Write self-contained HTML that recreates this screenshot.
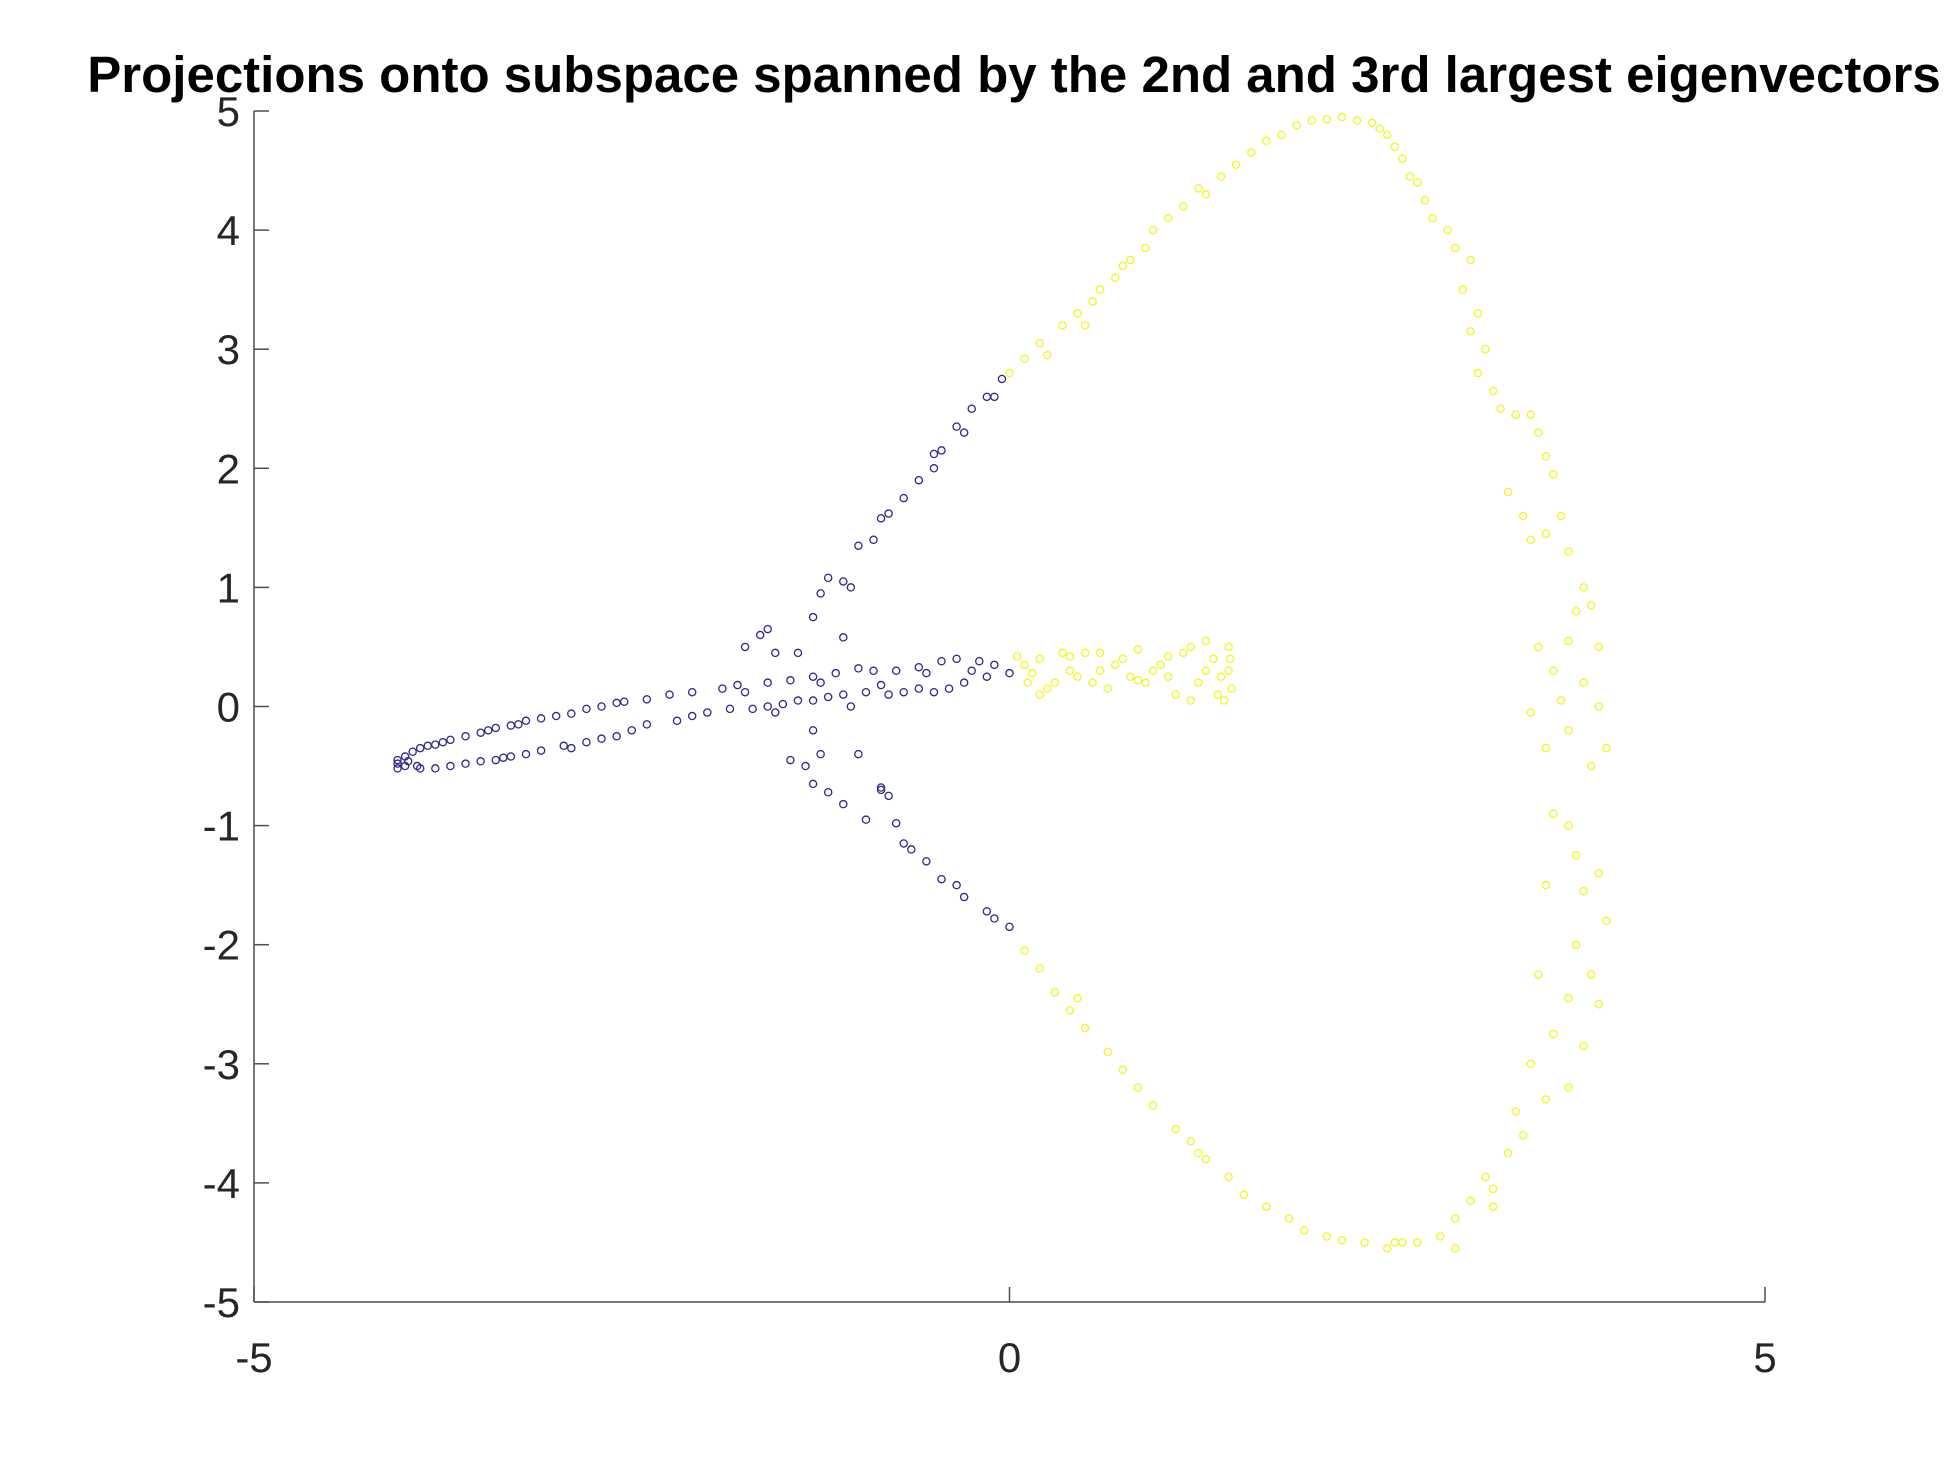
<!DOCTYPE html>
<html><head><meta charset="utf-8"><style>
html,body{margin:0;padding:0;background:#fff;}
svg{display:block;}
text{font-family:"Liberation Sans",sans-serif;}
</style></head><body>
<svg id="chart" width="1951" height="1463">
<text x="1014" y="92" text-anchor="middle" font-size="51" font-weight="bold" fill="#000">Projections onto subspace spanned by the 2nd and 3rd largest eigenvectors</text>
<g id="axes"></g>
<g id="pts"></g>
</svg>
<script>
const xTicks=[-5,0,5];
const yTicks=[5,4,3,2,1,0,-1,-2,-3,-4,-5];
const blueX=[-4.05,-4.0,-3.95,-3.9,-3.85,-3.8,-3.75,-3.7,-3.6,-3.5,-3.45,-3.4,-3.3,-3.2,-3.1,-3.0,-2.9,-2.8,-2.7,-2.6,-2.4,-2.25,-2.1,-1.9,-1.8,-1.6,-1.45,-1.3,-1.15,-1.0,-0.9,-0.75,-0.6,-0.45,-0.35,-0.2,-0.1,
-4.05,-4.0,-3.9,-3.8,-3.7,-3.6,-3.5,-3.4,-3.3,-3.2,-3.1,-2.9,-2.8,-2.7,-2.6,-2.5,-2.4,-2.2,-2.1,-2.0,-1.85,-1.7,-1.6,-1.5,-1.4,-1.3,-1.2,-1.1,-0.95,-0.8,-0.7,-0.6,-0.5,-0.4,-0.3,-0.15,0.0,
-4.05,-3.98,-3.92,-3.35,-2.95,-3.25,-2.55,-1.75,-1.55,-1.25,-0.85,-0.55,-0.25,-1.05,
-1.75,-1.65,-1.6,-1.55,-1.4,-1.3,-1.25,-1.2,-1.1,-1.05,-1.0,-0.9,-0.85,-0.8,-0.7,-0.6,-0.5,-0.45,-0.35,-0.25,-0.15,-0.1,-0.05,-1.1,-0.5,-0.3,
-1.45,-1.35,-1.3,-1.25,-1.2,-1.1,-1.0,-0.95,-0.85,-0.8,-0.75,-0.7,-0.65,-0.55,-0.45,-0.35,-0.3,-0.15,-0.1,0.0,-1.3,-0.85];
const blueY=[-0.45,-0.42,-0.38,-0.35,-0.33,-0.32,-0.3,-0.28,-0.25,-0.22,-0.2,-0.18,-0.16,-0.12,-0.1,-0.08,-0.06,-0.02,0.0,0.03,0.06,0.1,0.12,0.15,0.18,0.2,0.22,0.25,0.28,0.32,0.3,0.3,0.33,0.38,0.4,0.38,0.35,
-0.52,-0.5,-0.52,-0.52,-0.5,-0.48,-0.46,-0.45,-0.42,-0.4,-0.37,-0.35,-0.3,-0.27,-0.25,-0.2,-0.15,-0.12,-0.08,-0.05,-0.02,-0.02,0.0,0.02,0.05,0.05,0.08,0.1,0.12,0.1,0.12,0.15,0.12,0.15,0.2,0.25,0.28,
-0.48,-0.46,-0.5,-0.43,-0.33,-0.15,0.04,0.12,-0.05,0.2,0.18,0.28,0.3,0.0,
0.5,0.6,0.65,0.45,0.45,0.75,0.95,1.08,1.05,1.0,1.35,1.4,1.58,1.62,1.75,1.9,2.0,2.15,2.35,2.5,2.6,2.6,2.75,0.58,2.12,2.3,
-0.45,-0.5,-0.65,-0.4,-0.72,-0.82,-0.4,-0.95,-0.7,-0.75,-0.98,-1.15,-1.2,-1.3,-1.45,-1.5,-1.6,-1.72,-1.78,-1.85,-0.2,-0.68];
const yellowX=[0.05,0.1,0.15,0.2,0.25,0.3,0.35,0.4,0.45,0.5,0.55,0.6,0.65,0.7,0.75,0.8,0.85,0.9,0.95,1.0,1.05,1.1,1.15,1.2,1.25,1.3,1.35,1.4,1.42,1.45,1.45,1.47,1.2,1.3,0.2,0.4,0.6,0.85,1.05,1.38,1.46,0.12,
0.0,0.1,0.2,0.25,0.35,0.45,0.5,0.55,0.6,0.7,0.75,0.8,0.9,0.95,1.05,1.15,1.25,1.3,1.4,1.5,1.6,1.7,1.8,1.9,2.0,2.1,2.2,2.3,2.4,2.45,2.5,2.55,2.6,2.65,2.7,2.75,2.8,2.9,2.95,3.05,3.0,3.1,3.05,3.15,3.1,3.2,3.25,3.35,3.45,3.5,3.55,3.6,3.65,3.55,3.4,3.45,3.3,3.7,3.8,3.75,3.85,3.9,3.7,3.5,3.6,3.8,3.9,3.65,3.45,3.95,3.55,3.7,3.85,3.6,3.7,3.75,3.55,3.8,3.9,3.95,3.75,3.85,3.5,3.7,3.9,3.6,3.8,3.45,3.7,3.55,3.35,3.4,3.3,3.15,3.2,3.05,2.95,2.85,2.95,2.7,2.6,2.5,2.35,2.2,2.1,1.95,1.85,1.7,1.55,1.45,1.3,1.2,1.1,0.95,0.85,0.75,0.65,0.5,0.4,0.3,0.2,0.1,3.2,2.55,0.45,1.25];
const yellowY=[0.42,0.35,0.28,0.4,0.15,0.2,0.45,0.3,0.25,0.45,0.2,0.3,0.15,0.35,0.4,0.25,0.48,0.2,0.3,0.35,0.25,0.1,0.45,0.5,0.2,0.55,0.4,0.25,0.05,0.3,0.5,0.15,0.05,0.3,0.1,0.42,0.45,0.22,0.42,0.1,0.4,0.2,
2.8,2.92,3.05,2.95,3.2,3.3,3.2,3.4,3.5,3.6,3.7,3.75,3.85,4.0,4.1,4.2,4.35,4.3,4.45,4.55,4.65,4.75,4.8,4.88,4.92,4.93,4.95,4.92,4.9,4.85,4.8,4.7,4.6,4.45,4.4,4.25,4.1,4.0,3.85,3.75,3.5,3.3,3.15,3.0,2.8,2.65,2.5,2.45,2.45,2.3,2.1,1.95,1.6,1.45,1.6,1.4,1.8,1.3,1.0,0.8,0.85,0.5,0.55,0.5,0.3,0.2,0.0,0.05,-0.05,-0.35,-0.35,-0.2,-0.5,-0.9,-1.0,-1.25,-1.5,-1.55,-1.4,-1.8,-2.0,-2.25,-2.25,-2.45,-2.5,-2.75,-2.85,-3.0,-3.2,-3.3,-3.4,-3.6,-3.75,-3.95,-4.05,-4.15,-4.3,-4.45,-4.55,-4.5,-4.5,-4.55,-4.5,-4.48,-4.45,-4.4,-4.3,-4.2,-4.1,-3.95,-3.8,-3.65,-3.55,-3.35,-3.2,-3.05,-2.9,-2.7,-2.55,-2.4,-2.2,-2.05,-4.2,-4.5,-2.45,-3.75];

const X0=254,X1=1765,Y0=111,Y1=1302;
const sx=v=>X0+(v+5)/10*(X1-X0);
const sy=v=>Y1-(v+5)/10*(Y1-Y0);
const NS='http://www.w3.org/2000/svg';
const axes=document.getElementById('axes');
function mk(tag,attrs,parent){const e=document.createElementNS(NS,tag);for(const k in attrs)e.setAttribute(k,attrs[k]);parent.appendChild(e);return e;}
const yl=mk('line',{x1:X0,y1:Y0,x2:X0,y2:Y1,stroke:'#4d4d4d','stroke-width':1.5},axes);


const xl=mk('line',{x1:X0,y1:Y1,x2:X1,y2:Y1,stroke:'#4d4d4d','stroke-width':1.5},axes);


xTicks.forEach(t=>{
  const tk=mk('line',{x1:sx(t),y1:Y1,x2:sx(t),y2:Y1-15,stroke:'#4d4d4d','stroke-width':1.5},axes);
  
  
  const tx=mk('text',{x:sx(t),y:Y1+70,'text-anchor':'middle','font-size':42,fill:'#262626'},axes);
  tx.textContent=t;
  
  
});
yTicks.forEach(t=>{
  const tk=mk('line',{x1:X0,y1:sy(t),x2:X0+15,y2:sy(t),stroke:'#4d4d4d','stroke-width':1.5},axes);
  
  
  const tx=mk('text',{x:X0-14,y:sy(t)+15,'text-anchor':'end','font-size':42,fill:'#262626'},axes);
  tx.textContent=t;
  
  
});
const pts=document.getElementById('pts');
function draw(xs,ys,col,name){
  for(let i=0;i<xs.length;i++){
    const c=mk('circle',{cx:sx(xs[i]),cy:sy(ys[i]),r:3.6,fill:'none',stroke:col,'stroke-width':1.3},pts);
    
    
  }
}
draw(blueX,blueY,'#2e2a86','point-cluster-1');
draw(yellowX,yellowY,'#f3f520','point-cluster-2');
</script>
</body></html>
